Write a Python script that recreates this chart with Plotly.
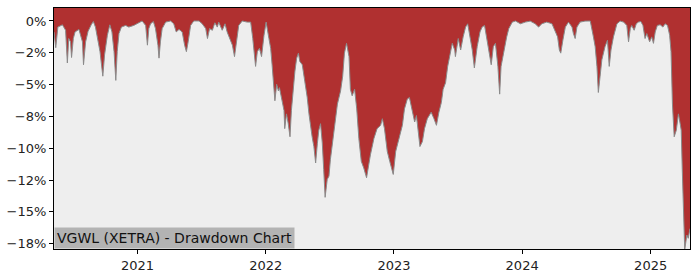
import plotly.graph_objects as go

dates = [
"2020-05-08","2020-05-13","2020-05-19","2020-06-01","2020-06-10","2020-06-15","2020-06-19","2020-06-24","2020-06-27","2020-07-02",
"2020-07-07","2020-07-18","2020-07-28","2020-07-31","2020-08-06","2020-08-13","2020-08-22","2020-08-28","2020-09-03","2020-09-09",
"2020-09-16","2020-09-24","2020-09-29","2020-10-07","2020-10-14","2020-10-20","2020-10-26","2020-10-31","2020-11-04","2020-11-09",
"2020-11-16","2020-11-28","2020-12-07","2020-12-21","2021-01-05","2021-01-14","2021-01-24","2021-01-29","2021-02-02","2021-02-07",
"2021-02-15","2021-02-21","2021-02-28","2021-03-03","2021-03-07","2021-03-12","2021-03-22","2021-04-05","2021-04-14","2021-04-21",
"2021-04-29","2021-05-08","2021-05-15","2021-05-20","2021-05-25","2021-06-01","2021-06-10","2021-06-25","2021-07-04","2021-07-14",
"2021-07-19","2021-07-25","2021-08-02","2021-08-09","2021-08-16","2021-08-20","2021-08-30","2021-09-07","2021-09-13","2021-09-20",
"2021-09-28","2021-10-04","2021-10-10","2021-10-16","2021-10-26","2021-11-09","2021-11-19","2021-11-25","2021-12-03","2021-12-08",
"2021-12-14","2021-12-20","2021-12-27","2022-01-02","2022-01-10","2022-01-15","2022-01-19","2022-01-24","2022-01-27","2022-02-01",
"2022-02-06","2022-02-09","2022-02-15","2022-02-22","2022-02-24","2022-03-01","2022-03-06","2022-03-11","2022-03-15","2022-03-20",
"2022-03-25","2022-03-30","2022-04-04","2022-04-08","2022-04-15","2022-04-22","2022-04-29","2022-05-04","2022-05-09","2022-05-13",
"2022-05-18","2022-05-23","2022-05-28","2022-06-01","2022-06-06","2022-06-11","2022-06-15","2022-06-19","2022-06-25","2022-06-30",
"2022-07-04","2022-07-09","2022-07-14","2022-07-19","2022-07-24","2022-08-02","2022-08-08","2022-08-13","2022-08-19","2022-08-26",
"2022-08-30","2022-09-04","2022-09-11","2022-09-17","2022-09-23","2022-09-30","2022-10-07","2022-10-15","2022-10-22","2022-10-26",
"2022-11-05","2022-11-14","2022-11-24","2022-11-29","2022-12-05","2022-12-13","2022-12-20","2022-12-27","2022-12-30","2023-01-06",
"2023-01-15","2023-01-25","2023-01-31","2023-02-08","2023-02-14","2023-02-22","2023-03-01","2023-03-06","2023-03-11","2023-03-16",
"2023-03-23","2023-03-29","2023-04-06","2023-04-17","2023-04-25","2023-05-02","2023-05-09","2023-05-16","2023-05-21","2023-05-28",
"2023-06-03","2023-06-09","2023-06-16","2023-06-23","2023-06-25","2023-07-03","2023-07-10","2023-07-17","2023-07-24","2023-07-30",
"2023-08-05","2023-08-12","2023-08-18","2023-08-26","2023-09-03","2023-09-09","2023-09-16","2023-09-24","2023-09-28","2023-10-05",
"2023-10-11","2023-10-17","2023-10-24","2023-10-29","2023-11-02","2023-11-10","2023-11-18","2023-11-24","2023-12-04","2023-12-13",
"2023-12-27","2024-01-10","2024-01-24","2024-02-07","2024-02-17","2024-02-26","2024-03-11","2024-03-26","2024-04-04","2024-04-11",
"2024-04-16","2024-04-20","2024-04-26","2024-05-03","2024-05-12","2024-05-22","2024-05-26","2024-05-31","2024-06-05","2024-06-14",
"2024-06-28","2024-07-13","2024-07-22","2024-07-27","2024-08-01","2024-08-05","2024-08-10","2024-08-15","2024-08-24","2024-08-31",
"2024-09-05","2024-09-10","2024-09-17","2024-09-27","2024-10-06","2024-10-16","2024-10-25","2024-10-30","2024-11-04","2024-11-08",
"2024-11-15","2024-11-21","2024-11-27","2024-12-04","2024-12-10","2024-12-16","2024-12-21","2024-12-29","2025-01-04","2025-01-09",
"2025-01-14","2025-01-20","2025-01-28","2025-02-05","2025-02-11","2025-02-18","2025-02-24","2025-02-28","2025-03-04","2025-03-09",
"2025-03-15","2025-03-21","2025-03-26","2025-03-29","2025-04-01","2025-04-04","2025-04-08","2025-04-14","2025-04-18","2025-04-23",
]

drawdown = [
-0.86,-2.10,-0.48,-0.30,-0.73,-3.30,-1.38,-1.64,-2.87,-1.38,
-0.86,-0.66,-1.64,-3.44,-1.64,-0.81,-0.30,-0.04,-0.48,-1.25,
-2.41,-4.34,-2.66,-1.12,-0.30,-0.86,-2.41,-4.67,-2.41,-0.99,
-0.48,-0.35,-0.48,-0.35,-0.09,0.00,-0.35,-1.90,-0.60,-0.22,
-0.04,-0.60,-1.90,-2.92,-1.64,-0.60,-0.09,0.00,-0.22,-0.86,
-0.66,-0.86,-1.90,-2.41,-1.64,-0.35,0.00,0.00,-0.22,-0.60,
-1.38,-0.60,-0.73,-0.14,-0.48,-0.09,-0.73,-0.22,-0.86,-1.38,
-1.90,-2.80,-1.64,-0.35,0.00,-0.09,-0.09,-1.38,-3.57,-2.41,
-2.15,-2.80,-1.12,-0.09,-1.38,-2.15,-3.44,-4.98,-6.27,-4.98,
-5.50,-5.24,-6.00,-7.04,-8.46,-7.30,-8.07,-9.10,-7.04,-5.24,
-3.95,-2.92,-2.53,-3.18,-3.44,-4.73,-6.00,-7.30,-8.59,-9.10,
-9.87,-11.16,-9.61,-8.59,-8.07,-9.61,-11.68,-13.86,-12.45,-12.19,
-10.90,-9.87,-8.84,-7.81,-6.53,-5.50,-4.34,-2.53,-1.76,-2.80,
-5.37,-5.88,-5.37,-6.91,-9.23,-11.03,-11.55,-12.32,-11.03,-10.52,
-9.23,-8.46,-8.20,-7.68,-8.46,-10.25,-11.03,-11.93,-12.06,-10.25,
-9.23,-8.20,-6.91,-6.14,-6.01,-6.91,-7.94,-7.43,-8.71,-9.87,
-9.48,-8.46,-7.68,-7.17,-7.68,-8.20,-7.17,-6.40,-5.37,-4.85,
-3.57,-2.66,-1.76,-2.28,-2.80,-1.38,-2.28,-1.25,-0.48,-0.22,
-1.25,-2.28,-3.69,-2.02,-0.86,-0.48,-0.35,-1.76,-2.28,-3.44,
-2.02,-1.76,-3.57,-5.75,-3.57,-2.28,-1.25,-0.60,-0.09,0.00,
-0.22,-0.09,-0.01,-0.22,-0.48,-0.22,-0.09,-0.22,-0.73,-1.25,
-2.28,-2.53,-1.51,-0.48,-0.09,-0.48,-0.99,-1.38,-0.48,-0.09,
-0.01,0.00,-1.25,-2.02,-3.57,-5.62,-4.34,-3.05,-2.02,-1.51,
-3.57,-2.28,-1.25,-0.22,-0.01,-0.09,-0.35,-1.64,-0.60,-0.35,
-0.73,-0.22,-0.09,-0.04,-0.35,-1.38,-0.99,-1.64,-1.25,-1.76,
-0.86,-0.35,-0.30,-0.48,-0.22,-0.35,-1.12,-2.41,-6.53,-9.10,
-8.59,-7.30,-8.07,-8.59,-11.68,-15.54,-17.98,-16.82,-17.08,-16.31,
]

y_tick_vals = [0, -2.5, -5, -7.5, -10, -12.5, -15, -17.5]
y_tick_text = ["0%", "\u22122%", "\u22125%", "\u22128%", "\u221210%", "\u221212%", "\u221215%", "\u221218%"]
x_tick_vals = ["2021-01-01", "2022-01-01", "2023-01-01", "2024-01-01", "2025-01-01"]
x_tick_text = ["2021", "2022", "2023", "2024", "2025"]
title_text = "VGWL (XETRA) - Drawdown Chart"

Y_MIN, Y_MAX = -17.92, 1.02

fig = go.Figure()
fig.add_trace(go.Scatter(
    x=dates, y=[Y_MAX] * len(dates), mode="lines",
    line=dict(width=0, color="rgba(0,0,0,0)"), hoverinfo="skip", showlegend=False,
))
fig.add_trace(go.Scatter(
    x=dates, y=drawdown, mode="lines", fill="tonexty",
    fillcolor="#b03030", line=dict(color="#8a8a8a", width=1),
    hoverinfo="skip", showlegend=False,
))

axis_common = dict(
    showline=True, linecolor="black", linewidth=1, mirror=True,
    ticks="outside", ticklen=4, tickcolor="black", tickwidth=1,
    showgrid=False, zeroline=False,
    tickfont=dict(family="DejaVu Sans", size=13, color="#222"),
)

fig.update_layout(
    width=700, height=280,
    margin=dict(l=53, r=10, t=7, b=28),
    paper_bgcolor="white", plot_bgcolor="#eeeeee",
    xaxis=dict(range=[dates[0], dates[-1]], tickvals=x_tick_vals, ticktext=x_tick_text, **axis_common),
    yaxis=dict(range=[Y_MIN, Y_MAX], tickvals=y_tick_vals, ticktext=y_tick_text, **axis_common),
    annotations=[dict(
        text=title_text, xref="paper", yref="paper", x=0, y=0,
        xanchor="left", yanchor="bottom", showarrow=False,
        font=dict(family="DejaVu Sans", size=14, color="#111"),
        bgcolor="#b3b3b3", borderpad=2,
    )],
)

fig.write_html("out.html")
